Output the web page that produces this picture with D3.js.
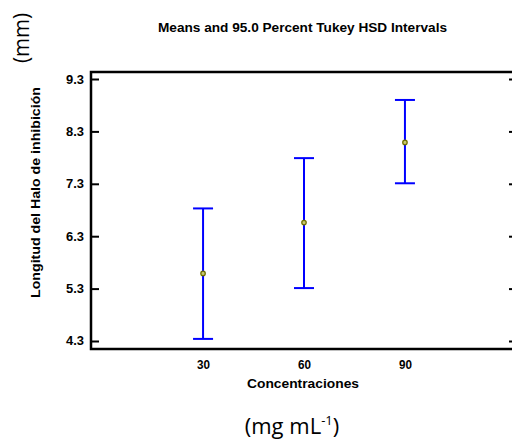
<!DOCTYPE html>
<html><head><meta charset="utf-8">
<script src="https://cdn.jsdelivr.net/npm/d3@7"></script>
<style>body{margin:0;background:#fff}svg{display:block}</style>
</head><body>
<script>
const categories = ["30", "60", "90"];
const means = [5.59, 6.56, 8.09];
const lower = [4.34, 5.31, 7.31];
const upper = [6.83, 7.79, 8.90];
const yTicks = [4.3, 5.3, 6.3, 7.3, 8.3, 9.3];

const W = 512, H = 443;
const L = 91, R = 517, T = 72, B = 349;
const svg = d3.select("body").append("svg").attr("width", W).attr("height", H);

const x = d3.scalePoint().domain(categories).range([L, R]).padding(1.11);
const y = d3.scaleLinear().domain([4.1664, 9.4336]).range([B - 1, T]);

const bold = "'Liberation Sans', Arial, sans-serif";

// frame
svg.append("rect").attr("x", L).attr("y", T).attr("width", R - L).attr("height", B - T)
  .attr("fill", "none").attr("stroke", "#000").attr("stroke-width", 2.5);

// left ticks (inward)
const yl = svg.append("g").attr("transform", `translate(${L},0)`)
  .call(d3.axisLeft(y).tickValues(yTicks).tickSize(-8).tickPadding(8).tickFormat(d3.format(".1f")));
yl.select(".domain").remove();
yl.selectAll(".tick line").attr("stroke", "#000").attr("stroke-width", 2);
yl.selectAll(".tick text").attr("font-family", bold).attr("font-weight", "bold").attr("font-size", 12.5).attr("fill", "#000")
  .attr("x", -7).attr("textLength", 18).attr("lengthAdjust", "spacingAndGlyphs");

// right ticks (inward)
const yr = svg.append("g").attr("transform", `translate(${R},0)`)
  .call(d3.axisRight(y).tickValues(yTicks).tickSize(-8).tickFormat(""));
yr.select(".domain").remove();
yr.selectAll(".tick line").attr("stroke", "#000").attr("stroke-width", 2);

// x tick labels
const xa = svg.append("g").attr("transform", `translate(0,${B})`)
  .call(d3.axisBottom(x).tickSize(0).tickPadding(11));
xa.select(".domain").remove();
xa.selectAll(".tick text").attr("font-family", bold).attr("font-weight", "bold").attr("font-size", 12.5).attr("fill", "#000")
  .attr("textLength", 13).attr("lengthAdjust", "spacingAndGlyphs");

// error bars
const g = svg.append("g");
categories.forEach((c, i) => {
  const cx = x(c);
  g.append("line").attr("x1", cx).attr("x2", cx).attr("y1", y(lower[i])).attr("y2", y(upper[i]))
    .attr("stroke", "#0000ff").attr("stroke-width", 2);
  [lower[i], upper[i]].forEach(v => {
    g.append("line").attr("x1", cx - 10).attr("x2", cx + 10).attr("y1", y(v)).attr("y2", y(v))
      .attr("stroke", "#0000ff").attr("stroke-width", 2);
  });
  g.append("circle").attr("cx", cx).attr("cy", y(means[i])).attr("r", 2.2)
    .attr("fill", "#c8c870").attr("stroke", "#707000").attr("stroke-width", 1.3);
});

// title
svg.append("text").attr("x", 302.5).attr("y", 32).attr("text-anchor", "middle")
  .attr("font-family", bold).attr("font-weight", "bold").attr("font-size", 12.5)
  .attr("textLength", 289).attr("lengthAdjust", "spacingAndGlyphs")
  .text("Means and 95.0 Percent Tukey HSD Intervals");

// y label
svg.append("text").attr("transform", "translate(40,192.5) rotate(-90)").attr("text-anchor", "middle")
  .attr("font-family", bold).attr("font-weight", "bold").attr("font-size", 12.5)
  .attr("textLength", 211).attr("lengthAdjust", "spacingAndGlyphs")
  .text("Longitud del Halo de inhibición");

// x label
svg.append("text").attr("x", 303).attr("y", 388).attr("text-anchor", "middle")
  .attr("font-family", bold).attr("font-weight", "bold").attr("font-size", 12.5)
  .attr("textLength", 112).attr("lengthAdjust", "spacingAndGlyphs")
  .text("Concentraciones");

// (mm)
svg.append("text").attr("transform", "translate(29,38) rotate(-90)").attr("text-anchor", "middle")
  .attr("font-family", "'Open Sans', sans-serif").attr("font-size", 21)
  .attr("textLength", 50).attr("lengthAdjust", "spacingAndGlyphs")
  .text("(mm)");

// (mg mL-1)
const u = svg.append("text").attr("x", 292).attr("y", 434).attr("text-anchor", "middle")
  .attr("font-family", "'Open Sans', sans-serif").attr("font-size", 22);
u.append("tspan").text("(mg mL");
u.append("tspan").attr("dy", -9).attr("font-size", 13).text("-1");
u.append("tspan").attr("dy", 9).text(")");
</script>
</body></html>
